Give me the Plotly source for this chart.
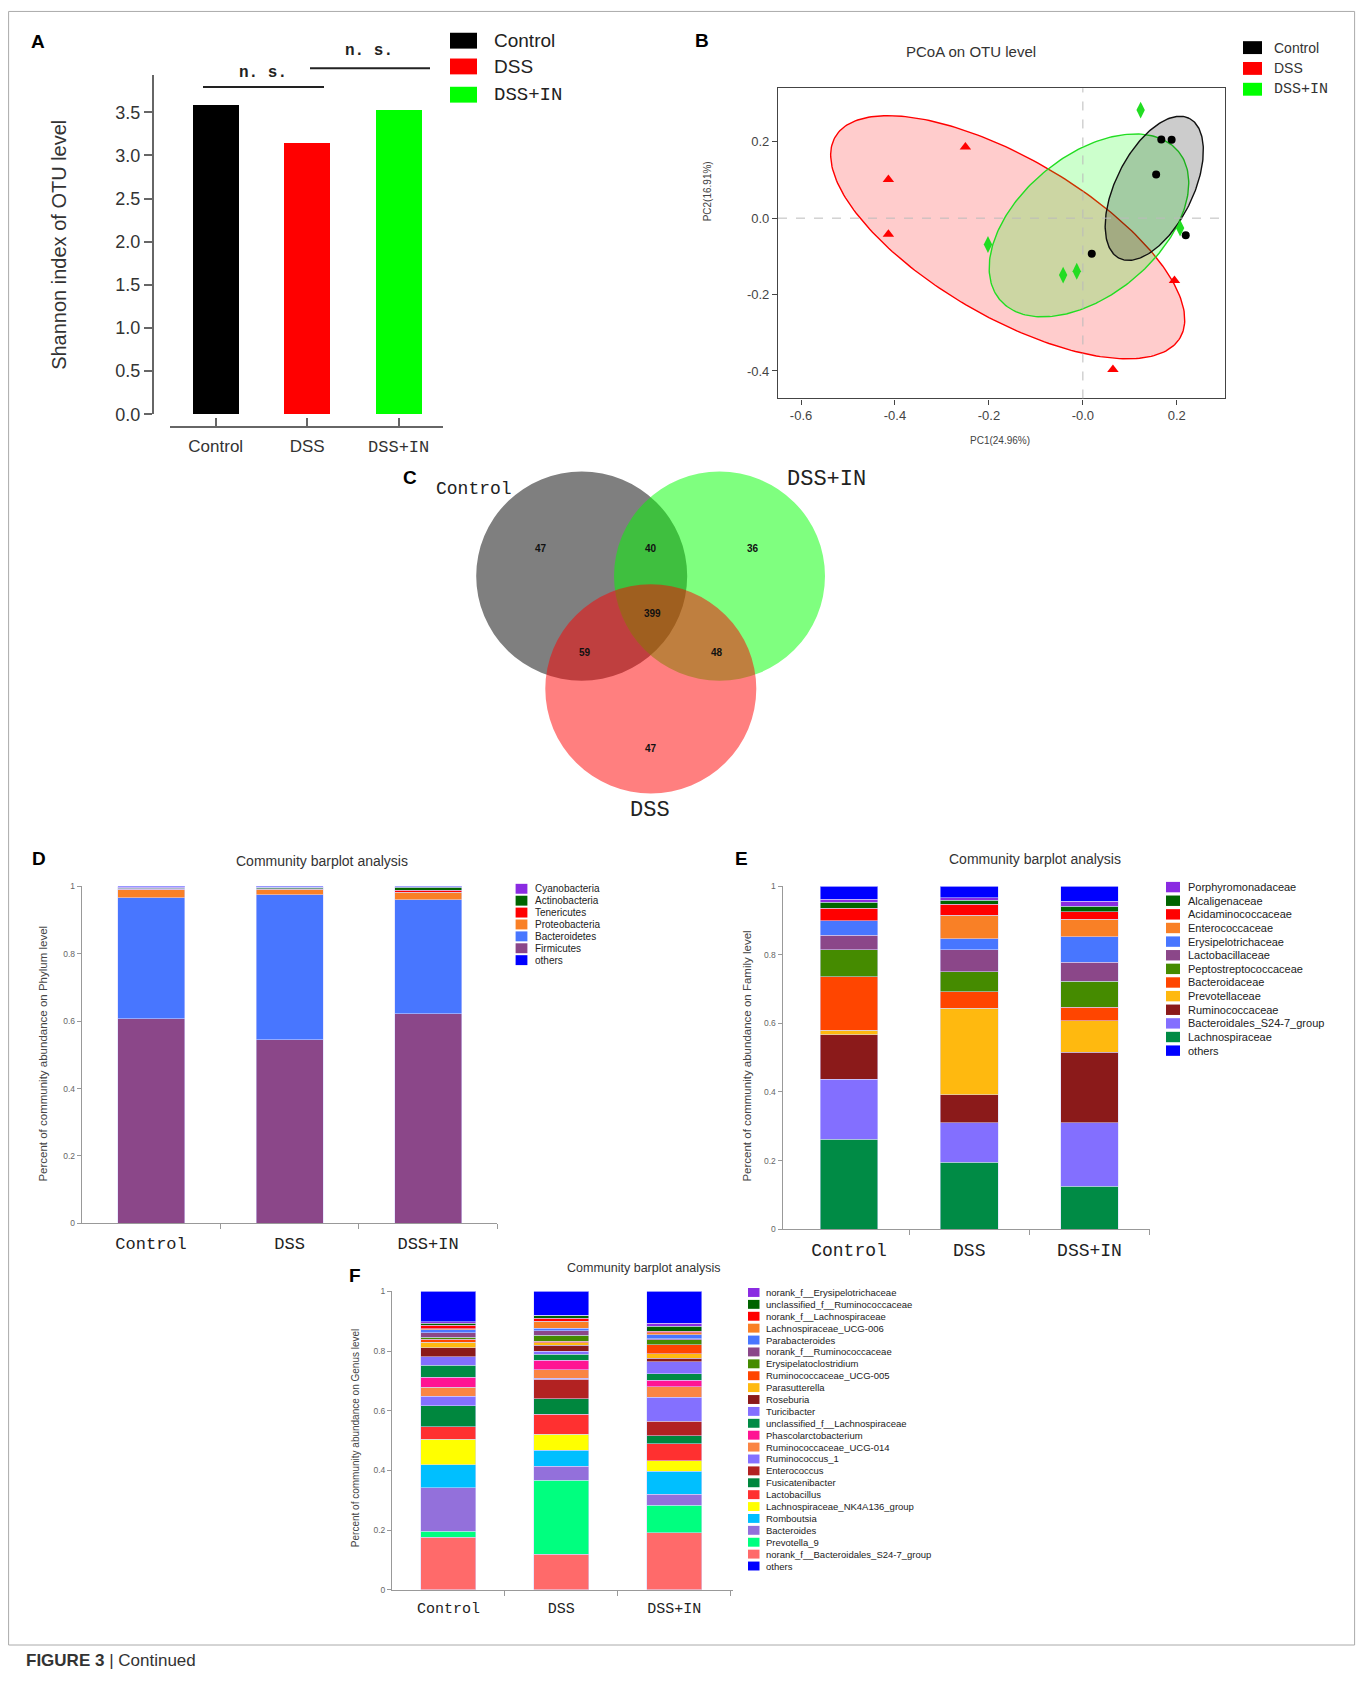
import numpy as np
import plotly.graph_objects as go

W, H = 1362, 1690
def X(p): return p / W
def Y(p): return 1 - p / H

SANS = "Liberation Sans, Arial, sans-serif"
MONO = "Liberation Mono, Courier New, monospace"

# ---------------- data ----------------
groups = ["Control", "DSS", "DSS+IN"]
group_colors = ["#000000", "#ff0000", "#00ff00"]
group_fonts = [SANS, SANS, MONO]

# A: Shannon index
shannon_index = [3.586, 3.146, 3.525]
shannon_ticks = [0.0, 0.5, 1.0, 1.5, 2.0, 2.5, 3.0, 3.5]
sig_labels = ["n. s.", "n. s."]

# B: PCoA
pc1_control = [0.167, 0.189, 0.156, 0.219, 0.019]
pc2_control = [0.206, 0.205, 0.114, -0.045, -0.093]
pc1_dss = [-0.414, -0.250, -0.414, 0.195, 0.064]
pc2_dss = [0.101, 0.186, -0.042, -0.163, -0.396]
pc1_dssin = [0.123, -0.202, -0.042, -0.013, 0.207]
pc2_dssin = [0.283, -0.069, -0.149, -0.139, -0.026]
# ellipse: centre x, centre y, semi axes (px), angle (deg)
ell_control = [0.152, 0.078, 78.8, 38.6, 63.8]
ell_dss = [-0.160, -0.050, 200.0, 80.0, -30.5]
ell_dssin = [0.013, -0.019, 116.5, 70.0, 40.2]
pc_xticks = [-0.6, -0.4, -0.2, 0.0, 0.2]
pc_xticktext = ["-0.6", "-0.4", "-0.2", "-0.0", "0.2"]
pc_yticks = [-0.4, -0.2, 0.0, 0.2]

# C: Venn counts
venn_only_control = 47
venn_control_dssin = 40
venn_only_dssin = 36
venn_all = 399
venn_control_dss = 59
venn_dss_dssin = 48
venn_only_dss = 47

# D: phylum (legend order; stacked bottom->top reversed, others on top)
phylum_names = ["Cyanobacteria", "Actinobacteria", "Tenericutes", "Proteobacteria",
                "Bacteroidetes", "Firmicutes", "others"]
phylum_colors = ["#8A2BE2", "#006400", "#FF0000", "#F98026", "#4876FF", "#8B4789", "#0000FF"]
phylum_control = [0.003, 0.002, 0.002, 0.023, 0.359, 0.608, 0.003]
phylum_dss = [0.001, 0.004, 0.001, 0.0175, 0.4295, 0.545, 0.002]
phylum_dssin = [0.001, 0.010, 0.006, 0.021, 0.3385, 0.6225, 0.001]

# E: family
family_names = ["Porphyromonadaceae", "Alcaligenaceae", "Acidaminococcaceae", "Enterococcaceae",
                "Erysipelotrichaceae", "Lactobacillaceae", "Peptostreptococcaceae", "Bacteroidaceae",
                "Prevotellaceae", "Ruminococcaceae", "Bacteroidales_S24-7_group", "Lachnospiraceae",
                "others"]
family_colors = ["#8A2BE2", "#006400", "#FF0000", "#F98026", "#4876FF", "#8B4789", "#458B00",
                 "#FF4500", "#FFB90F", "#8B1A1A", "#836FFF", "#008B45", "#0000FF"]
family_control = [0.0086, 0.0174, 0.0366, 0.0, 0.0414, 0.0424, 0.0789, 0.1567, 0.0125, 0.130,
                  0.176, 0.2615, 0.0385]
family_dss = [0.0067, 0.0116, 0.0317, 0.0692, 0.0327, 0.0634, 0.0587, 0.0481, 0.2519, 0.0827,
              0.1144, 0.1952, 0.0337]
family_dssin = [0.0144, 0.0163, 0.0222, 0.0509, 0.0741, 0.0557, 0.076, 0.0394, 0.0923, 0.2058,
                0.1846, 0.125, 0.0433]

# F: genus
genus_names = ["norank_f__Erysipelotrichaceae", "unclassified_f__Ruminococcaceae",
               "norank_f__Lachnospiraceae", "Lachnospiraceae_UCG-006", "Parabacteroides",
               "norank_f__Ruminococcaceae", "Erysipelatoclostridium", "Ruminococcaceae_UCG-005",
               "Parasutterella", "Roseburia", "Turicibacter", "unclassified_f__Lachnospiraceae",
               "Phascolarctobacterium", "Ruminococcaceae_UCG-014", "Ruminococcus_1", "Enterococcus",
               "Fusicatenibacter", "Lactobacillus", "Lachnospiraceae_NK4A136_group", "Romboutsia",
               "Bacteroides", "Prevotella_9", "norank_f__Bacteroidales_S24-7_group", "others"]
genus_colors = ["#8A2BE2", "#006400", "#FF0000", "#F98026", "#4876FF", "#8B4789", "#458B00",
                "#FF4500", "#FFB90F", "#8B1A1A", "#836FFF", "#008B45", "#FF1493", "#FA8544",
                "#8470FF", "#B22222", "#00873E", "#FF3030", "#FFFF00", "#00BFFF", "#9370DB",
                "#00FF7F", "#FF6A6A", "#0000FF"]
genus_control = [0.005, 0.008, 0.011, 0.004, 0.009, 0.016, 0.0064, 0.0106, 0.018, 0.030, 0.028,
                 0.040, 0.034, 0.030, 0.0325, 0.0, 0.0705, 0.041, 0.086, 0.077, 0.145, 0.021,
                 0.176, 0.101]
genus_dss = [0.002, 0.0075, 0.0112, 0.022, 0.0089, 0.0155, 0.0199, 0.005, 0.0083, 0.0199, 0.0098,
             0.021, 0.0321, 0.0276, 0.0033, 0.0663, 0.0507, 0.0676, 0.053, 0.0551, 0.0464, 0.248,
             0.119, 0.080]
genus_dssin = [0.010, 0.018, 0.005, 0.006, 0.013, 0.0034, 0.0166, 0.031, 0.0154, 0.011, 0.041,
               0.0209, 0.0221, 0.0353, 0.0796, 0.0497, 0.0265, 0.0563, 0.0365, 0.0763, 0.0364,
               0.0934, 0.1906, 0.106]

abund_ticks = [0, 0.2, 0.4, 0.6, 0.8, 1.0]
abund_ticktext = ["0", "0.2", "0.4", "0.6", "0.8", "1"]

# ---------------- figure ----------------
fig = go.Figure()
annotations = []
shapes = []

def text(x, y, s, size, family=SANS, color="#222", xanchor="center", yanchor="middle", angle=0):
    annotations.append(dict(x=X(x), y=Y(y), xref="paper", yref="paper", text=s, showarrow=False,
                            font=dict(family=family, size=size, color=color),
                            xanchor=xanchor, yanchor=yanchor, textangle=angle))

def square(x0, x1, yc, h, color):
    shapes.append(dict(type="rect", xref="paper", yref="paper", x0=X(x0), x1=X(x1),
                       y0=Y(yc + h / 2), y1=Y(yc - h / 2), fillcolor=color, line=dict(width=0)))

xpos = list(range(len(groups)))

# ---- A ----
fig.add_trace(go.Bar(x=xpos, y=shannon_index, marker=dict(color=group_colors, line=dict(width=0)),
                     width=0.5, xaxis="x", yaxis="y", showlegend=False))
shapes.append(dict(type="line", xref="paper", yref="paper", x0=X(203), x1=X(324), y0=Y(82.7), y1=Y(82.7),
                   line=dict(color="#222", width=2)))
shapes.append(dict(type="line", xref="paper", yref="paper", x0=X(310), x1=X(430), y0=Y(63.7), y1=Y(63.7),
                   line=dict(color="#222", width=2)))
text(263, 69, "<b>" + sig_labels[0] + "</b>", 16, family=MONO)
text(369, 46, "<b>" + sig_labels[1] + "</b>", 16, family=MONO)
for i, g in enumerate(groups):
    cy = [36, 62, 90.5][i]
    square(450, 477, cy, 16, group_colors[i])
    text(492, cy, g, 19, family=group_fonts[i], xanchor="left")
text(59, 242, "Shannon index of OTU level", 20, angle=-90, color="#333")
text(38, 37, "<b>A</b>", 19, color="#000")

# ---- B ----
B_left, B_right, B_top, B_bottom = 778, 1225, 84, 397
B_xrange = [-0.649, 0.3026]
B_yrange = [-0.472, 0.340]
ppx = (B_right - B_left) / (B_xrange[1] - B_xrange[0])
ppy = (B_bottom - B_top) / (B_yrange[1] - B_yrange[0])

def ellipse(p):
    cx, cy, a, b, ang = p
    t = np.linspace(0, 2 * np.pi, 240)
    th = np.deg2rad(ang)
    dx = a * np.cos(t) * np.cos(th) - b * np.sin(t) * np.sin(th)
    dy = a * np.cos(t) * np.sin(th) + b * np.sin(t) * np.cos(th)
    return cx + dx / ppx, cy + dy / ppy

for p, fc, lc in [(ell_dss, "rgba(255,0,0,0.2)", "#ff0000"),
                  (ell_dssin, "rgba(0,255,0,0.2)", "#22dd22"),
                  (ell_control, "rgba(0,0,0,0.2)", "#111111")]:
    ex, ey = ellipse(p)
    fig.add_trace(go.Scatter(x=ex, y=ey, mode="lines", fill="toself", fillcolor=fc,
                             line=dict(color=lc, width=1.4), xaxis="x2", yaxis="y2",
                             showlegend=False, hoverinfo="skip"))
fig.add_trace(go.Scatter(x=pc1_control, y=pc2_control, mode="markers",
                         marker=dict(symbol="circle", size=8, color="#000"), xaxis="x2", yaxis="y2",
                         showlegend=False))
fig.add_trace(go.Scatter(x=pc1_dss, y=pc2_dss, mode="markers",
                         marker=dict(symbol="triangle-up", size=10, color="#ff0000"), xaxis="x2",
                         yaxis="y2", showlegend=False))
fig.add_trace(go.Scatter(x=pc1_dssin, y=pc2_dssin, mode="markers",
                         marker=dict(symbol="diamond-tall", size=12, color="#22dd22"), xaxis="x2",
                         yaxis="y2", showlegend=False))
shapes.append(dict(type="line", xref="x2", yref="y2 domain", x0=0, x1=0, y0=0, y1=1,
                   line=dict(color="#bbb", width=1, dash="dash")))
shapes.append(dict(type="line", xref="x2 domain", yref="y2", x0=0, x1=1, y0=0, y1=0,
                   line=dict(color="#bbb", width=1, dash="dash")))
text(971, 47, "PCoA on OTU level", 15, color="#333")
text(1000, 439, "PC1(24.96%)", 10, color="#444")
text(707, 188, "PC2(16.91%)", 10, color="#444", angle=-90)
for i, g in enumerate(groups):
    cy = [43, 64, 85][i]
    square(1243, 1262, cy, 13, group_colors[i])
    text(1272, cy, g, 14 if i < 2 else 15, family=group_fonts[i], xanchor="left", color="#333")
text(702, 36, "<b>B</b>", 19, color="#000")

# ---- C ----
circ_r = 105.5
venn_circles = [((581.7, 576.2), "rgba(0,0,0,0.5)"),
                ((719.5, 576.2), "rgba(0,255,0,0.5)"),
                ((650.8, 690.0), "rgba(255,0,0,0.5)")]
for (cx, cy), col in venn_circles:
    shapes.append(dict(type="circle", xref="x3", yref="y3", x0=cx - circ_r, x1=cx + circ_r,
                       y0=cy - circ_r, y1=cy + circ_r, fillcolor=col, line=dict(width=0)))
venn_vals = [venn_only_control, venn_control_dssin, venn_only_dssin, venn_all,
             venn_control_dss, venn_dss_dssin, venn_only_dss]
venn_pos = [(541, 548.3), (651, 548.3), (752.7, 548.3), (652.3, 614), (585, 653.3),
            (717.3, 653.3), (651, 750)]
for v, (vx, vy) in zip(venn_vals, venn_pos):
    annotations.append(dict(x=vx, y=vy, xref="x3", yref="y3", text=f"<b>{v}</b>", showarrow=False,
                            font=dict(family=SANS, size=10, color="#111")))
text(474, 488, "Control", 18, family=MONO, color="#222")
text(826, 479, "DSS+IN", 22, family=MONO, color="#222")
text(650, 813, "DSS", 22, family=MONO, color="#222")
text(410, 477, "<b>C</b>", 19, color="#000")

# ---- D/E/F stacked bars ----
def stacked(names, colors, vals_by_group, xa, ya, width):
    n = len(names)
    order = list(range(n - 2, -1, -1)) + [n - 1]
    for i in order:
        fig.add_trace(go.Bar(x=xpos, y=[g[i] for g in vals_by_group], width=width,
                             marker=dict(color=colors[i], line=dict(width=0.6, color="rgba(215,215,255,0.9)")),
                             xaxis=xa, yaxis=ya, showlegend=False, name=names[i]))

def legend(names, colors, sx0, sx1, y0, step, sh, tx, size):
    for i, nm in enumerate(names):
        cy = y0 + i * step
        square(sx0, sx1, cy, sh, colors[i])
        text(tx, cy, nm, size, xanchor="left", color="#222")

stacked(phylum_names, phylum_colors, [phylum_control, phylum_dss, phylum_dssin], "x4", "y4", 0.484)
legend(phylum_names, phylum_colors, 515.6, 527.4, 891.7, 12.0, 10, 533, 10)
text(322, 864, "Community barplot analysis", 14, color="#333")
text(43, 1058, "Percent of community abundance on Phylum level", 11.5, color="#444", angle=-90)
text(39, 861, "<b>D</b>", 19, color="#000")

stacked(family_names, family_colors, [family_control, family_dss, family_dssin], "x5", "y5", 0.48)
legend(family_names, family_colors, 1166, 1180, 890, 13.75, 10.5, 1185.5, 11)
text(1035, 862, "Community barplot analysis", 14, color="#333")
text(747, 1061, "Percent of community abundance on Family level", 11.5, color="#444", angle=-90)
text(741, 861, "<b>E</b>", 19, color="#000")

stacked(genus_names, genus_colors, [genus_control, genus_dss, genus_dssin], "x6", "y6", 0.487)
legend(genus_names, genus_colors, 748, 759.5, 1299, 12.0, 9, 764, 9.5)
text(644, 1274, "Community barplot analysis", 12.5, color="#333")
text(355, 1446, "Percent of community abundance on Genus level", 10, color="#444", angle=-90)
text(355, 1282, "<b>F</b>", 19, color="#000")

# frame and caption
shapes.append(dict(type="rect", xref="paper", yref="paper", x0=X(8.6), x1=X(1354.6), y0=Y(1654.7),
                   y1=Y(6.5), line=dict(color="#aaa", width=1)))
text(24, 1670, "<b>FIGURE 3</b> | Continued", 17, color="#333", xanchor="left")

# ---------------- axes ----------------
def bar_x(domain, rng, anchor, size, standoff=4):
    return dict(domain=domain, range=rng, anchor=anchor, tickmode="array", tickvals=xpos,
                ticktext=groups, ticks="", showline=True, linecolor="#999", linewidth=1,
                showgrid=False, zeroline=False, ticklabelstandoff=standoff,
                tickfont=dict(family=MONO, size=size, color="#222"),
                minor=dict(tickmode="array", tickvals=[0.5, 1.5, 2.5], ticks="outside",
                           ticklen=5, tickcolor="#999", tickwidth=1))

def bar_y(domain, anchor):
    return dict(domain=domain, range=[0, 1], anchor=anchor, tickmode="array", tickvals=abund_ticks,
                ticktext=abund_ticktext, ticks="outside", ticklen=4, tickcolor="#999",
                showline=True, linecolor="#999", linewidth=1, showgrid=False, zeroline=False,
                tickfont=dict(family=SANS, size=8.5, color="#666"))

A_ticktext = ["Control", "DSS", "<span style='font-family:Liberation Mono'>DSS+IN</span>"]

fig.update_layout(
    width=W, height=H, margin=dict(l=0, r=0, t=0, b=0),
    paper_bgcolor="white", plot_bgcolor="white", barmode="stack", showlegend=False,
    xaxis=dict(domain=[X(170), X(443)], range=[-0.5, 2.485], anchor="free", position=Y(425.3),
               tickmode="array", tickvals=xpos, ticktext=A_ticktext, ticks="inside", ticklen=8,
               tickwidth=1.5, tickcolor="#666", showline=True, linecolor="#666", linewidth=1.5,
               showgrid=False, zeroline=False, ticklabelstandoff=4,
               tickfont=dict(family=SANS, size=17, color="#333"),
               minor=dict(tickmode="array", tickvals=[-0.495, 2.48], ticks="inside", ticklen=10,
                          tickwidth=1.5, tickcolor="#666")),
    yaxis=dict(domain=[Y(413), Y(70.7)], range=[0, 3.93], anchor="free", position=X(152.7),
               tickmode="array", tickvals=shannon_ticks, ticktext=[f"{v:.1f}" for v in shannon_ticks],
               ticks="outside", ticklen=8, tickwidth=1.5, tickcolor="#666", showline=True,
               linecolor="#666", linewidth=1.5, showgrid=False, zeroline=False,
               tickfont=dict(family=SANS, size=18, color="#333")),
    xaxis2=dict(domain=[X(B_left), X(B_right)], range=B_xrange, anchor="y2", tickmode="array",
                tickvals=pc_xticks, ticktext=pc_xticktext, ticks="outside", ticklen=5,
                tickcolor="#444", showline=True, mirror=True, linecolor="#444", linewidth=1.2,
                showgrid=False, zeroline=False, tickfont=dict(family=SANS, size=13, color="#444")),
    yaxis2=dict(domain=[Y(B_bottom), Y(B_top)], range=B_yrange, anchor="x2", tickmode="array",
                tickvals=pc_yticks, ticktext=[f"{v:.1f}" for v in pc_yticks], ticks="outside",
                ticklen=5, tickcolor="#444", showline=True, mirror=True, linecolor="#444",
                linewidth=1.2, showgrid=False, zeroline=False,
                tickfont=dict(family=SANS, size=13, color="#444")),
    xaxis3=dict(domain=[X(400), X(900)], range=[400, 900], anchor="y3", visible=False),
    yaxis3=dict(domain=[Y(840), Y(440)], range=[840, 440], anchor="x3", visible=False),
    xaxis4=bar_x([X(81.8), X(497.3)], [-0.5, 2.5], "y4", 17),
    yaxis4=bar_y([Y(1229.3), Y(889.3)], "x4"),
    xaxis5=bar_x([X(782.5), X(1149.6)], [-0.553, 2.5], "y5", 18),
    yaxis5=bar_y([Y(1235), Y(889.3)], "x5"),
    xaxis6=bar_x([X(392), X(733)], [-0.5, 2.52], "y6", 15),
    yaxis6=bar_y([Y(1599), Y(1298)], "x6"),
    annotations=annotations, shapes=shapes,
)

post = ("document.documentElement.style.overflow='hidden';"
        "document.body.style.margin='0px';document.body.style.overflow='hidden';"
        "var d=document.getElementById('{plot_id}');"
        "d.style.position='absolute';d.style.top='0px';d.style.left='0px';")
fig.write_html("out.html", config={"displayModeBar": False}, post_script=post)
